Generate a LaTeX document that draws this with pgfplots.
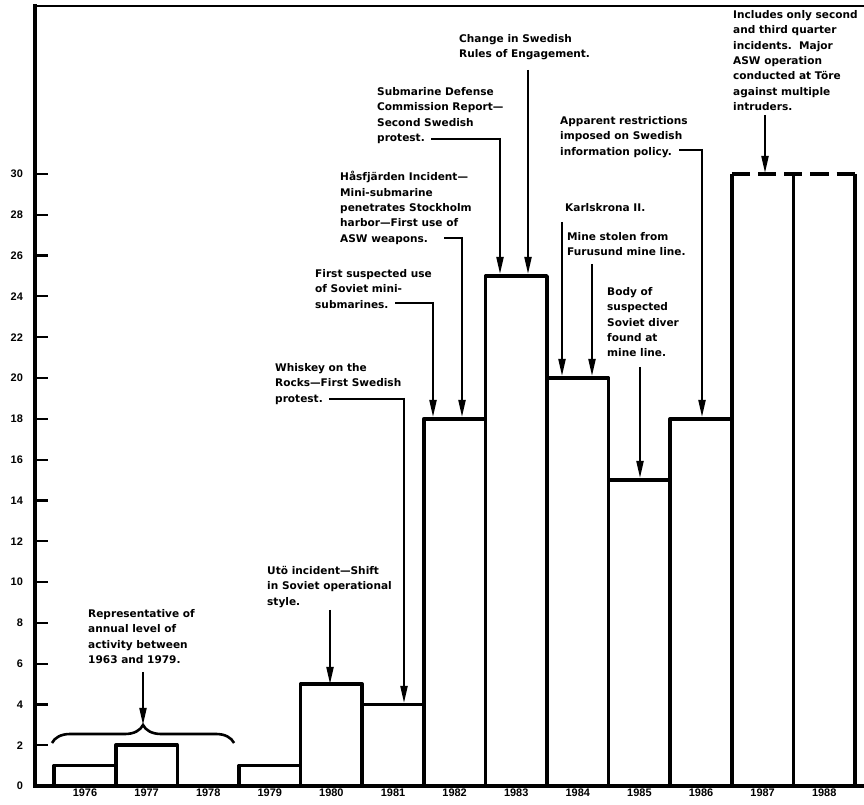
\documentclass[border=0pt]{standalone}
\usepackage{fontspec}
\usepackage{pgfplots}
\pgfplotsset{compat=1.18}
\usetikzlibrary{arrows.meta,decorations.pathreplacing}
\newfontfamily\annfont{DejaVu Sans}
\newfontfamily\tickfont{Liberation Sans}
\tikzset{
  ann/.style={font=\annfont\bfseries\fontsize{10.6}{15.5}\selectfont, align=left, inner sep=0pt, anchor=north west},
  arr/.style={line width=2bp, -{Triangle[length=17bp,width=7bp]}},
  lead/.style={line width=2bp}
}
\begin{document}
\begin{tikzpicture}
\begin{axis}[
  x=61.6bp, y=20.4bp,
  xmin=-0.81, xmax=12.646, ymin=0, ymax=38.235,
  clip=false,
  axis line style={draw=none},
  ytick={0,2,...,30},
  xtick={0,1,2,3,4,5,6,7,8,9,10,11,12},
  xticklabels={1976,1977,1978,1979,1980,1981,1982,1983,1984,1985,1986,1987,1988},
  xtick style={draw=none},
  ytick style={line width=2.2bp, black},
  ytick pos=left, xtick pos=bottom,
  tick align=inside,
  major tick length=13bp,
  /pgf/number format/assume math mode=true,
  ticklabel style={font=\tickfont\bfseries\fontsize{11}{12}\selectfont, inner sep=0pt},
  yticklabel style={anchor=east, xshift=-12bp},
  xticklabel style={anchor=north, yshift=-2.5bp},
]
% bars
\addplot[ybar, bar width=1, bar shift=0pt, draw=black, fill=none, line width=3.5bp, line join=round]
  coordinates {(0,1) (1,2) (3,1) (4,5) (5,4) (6,18) (7,25) (8,20) (9,15) (10,18)};
% 1987 and 1988 (partial-year estimate, dashed top)
\addplot[line width=3.5bp, mark=none] coordinates {(10.5,0) (10.5,30)};
\addplot[line width=3.5bp, mark=none] coordinates {(11.5,0) (11.5,30)};
\addplot[line width=3.5bp, mark=none] coordinates {(12.5,0) (12.5,30)};
\addplot[line width=3.5bp, mark=none, dash pattern=on 18.2bp off 8bp] coordinates {(10.5,30) (12.5,30)};
% frame
\draw[line width=3.8bp, line cap=rect] (rel axis cs:0,0) -- (rel axis cs:0,1);
\draw[line width=3.2bp] (rel axis cs:0,0) -- (rel axis cs:1,0);
\draw[line width=2bp] (rel axis cs:0,1) -- (rel axis cs:1,1);
% brace over 1976-1978
\draw[line width=2.6bp, decorate, decoration={brace, amplitude=18bp}] (axis cs:-0.536,2.108) -- (axis cs:2.42,2.108);
\coordinate (IMG) at (axis cs:-1.37987,38.5294);
\end{axis}
\begin{scope}[shift={(IMG)}, x=1bp, y=-1bp]
\node[ann] at (88,609) {Representative of\\annual level of\\activity between\\1963 and 1979.};
\draw[arr] (143,672) -- (143,725);
\node[ann] at (267,566) {Utö incident—Shift\\in Soviet operational\\style.};
\draw[arr] (330,610) -- (330,684);
\node[ann] at (275,363) {Whiskey on the\\Rocks—First Swedish\\protest.};
\draw[lead] (329,399) -- (404,399);
\draw[arr] (404,398) -- (404,703);
\node[ann] at (315,269) {First suspected use\\of Soviet mini-\\submarines.};
\draw[lead] (395,303) -- (433,303);
\draw[arr] (433,302) -- (433,417);
\node[ann] at (340,171) {Håsfjärden Incident—\\Mini-submarine\\penetrates Stockholm\\harbor—First use of\\ASW weapons.};
\draw[lead] (444,238) -- (462,238);
\draw[arr] (462,237) -- (462,417);
\node[ann] at (377,87) {Submarine Defense\\Commission Report—\\Second Swedish\\protest.};
\draw[lead] (431,139) -- (500,139);
\draw[arr] (500,138) -- (500,274);
\node[ann] at (459,34) {Change in Swedish\\Rules of Engagement.};
\draw[arr] (528,70) -- (528,274);
\node[ann] at (560,116) {Apparent restrictions\\imposed on Swedish\\information policy.};
\draw[lead] (679,150) -- (702,150);
\draw[arr] (702,149) -- (702,417);
\node[ann] at (565,203) {Karlskrona II.};
\draw[arr] (562,222) -- (562,376);
\node[ann] at (567,232) {Mine stolen from\\Furusund mine line.};
\draw[arr] (592,264) -- (592,376);
\node[ann] at (607,287) {Body of\\suspected\\Soviet diver\\found at\\mine line.};
\draw[arr] (640,367) -- (640,478);
\node[ann] at (733,10) {Includes only second\\and third quarter\\incidents.\ \ Major\\ASW operation\\conducted at Töre\\against multiple\\intruders.};
\draw[arr] (765,115) -- (765,173);
\pgfresetboundingbox
\path[use as bounding box] (0,0) rectangle (864,805);
\end{scope}
\end{tikzpicture}
\end{document}
